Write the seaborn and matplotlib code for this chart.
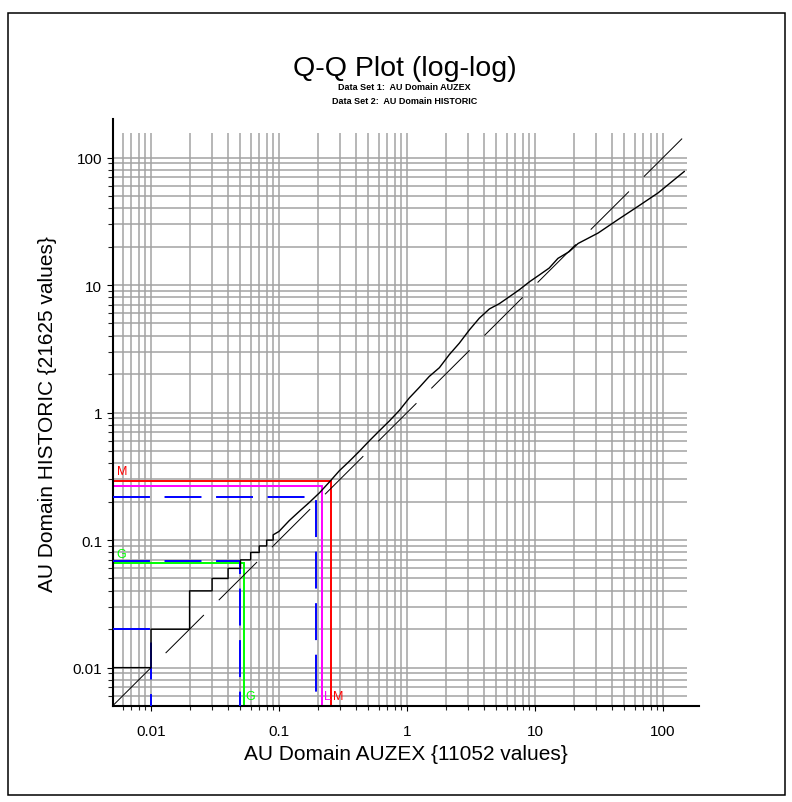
import matplotlib
matplotlib.use("Agg")
import matplotlib.pyplot as plt
from matplotlib.patches import Rectangle
from matplotlib.ticker import NullFormatter
import seaborn as sns

# Q-Q curve: matching quantiles of the two data sets
qq_auzex = [
    0.005, 0.01, 0.01, 0.02, 0.02, 0.03, 0.03, 0.04, 0.04, 0.05, 0.05,
    0.06, 0.06, 0.07, 0.07, 0.08, 0.08, 0.09, 0.09, 0.10,
    0.12, 0.144, 0.173, 0.207, 0.247, 0.296, 0.354, 0.424, 0.507, 0.608,
    0.728, 0.871, 1.04, 1.25, 1.49, 1.79, 2.14, 2.56, 3.07, 3.67, 4.4,
    5.26, 6.3, 7.55, 9.03, 10.8, 12.9, 15.1, 18.5, 21.7, 31.1, 44.6,
    63.9, 91.6, 147.0,
]
qq_historic = [
    0.01, 0.01, 0.02, 0.02, 0.04, 0.04, 0.05, 0.05, 0.06, 0.06, 0.07,
    0.07, 0.08, 0.08, 0.09, 0.09, 0.10, 0.10, 0.11, 0.117,
    0.142, 0.168, 0.198, 0.235, 0.285, 0.35, 0.415, 0.497, 0.60, 0.72,
    0.86, 1.04, 1.3, 1.58, 1.92, 2.25, 2.85, 3.5, 4.45, 5.5, 6.5,
    7.15, 8.1, 9.2, 10.6, 12.0, 13.6, 16.2, 18.3, 21.2, 25.6, 32.7,
    41.5, 52.9, 78.0,
]

# 1:1 reference line
diag_ends = [0.005, 145.0]

# Summary statistics (label, AUZEX value, HISTORIC value, colour)
stat_labels = ["G", "L", "M"]
stat_x = [0.053, 0.215, 0.255]
stat_y = [0.066, 0.267, 0.293]
stat_colors = ["#00ff00", "#ff00ff", "#ff0000"]

# Quartile guides
quartile_x = [0.01, 0.05, 0.195]
quartile_y = [0.02, 0.068, 0.218]

major_ticks = [0.01, 0.1, 1, 10, 100]
major_labels = ["0.01", "0.1", "1", "10", "100"]

x_limits = (0.005, 190.0)
y_limits = (0.005, 200.0)
grid_top = 155.0

sns.set_theme(style="white")
plt.rcParams["font.family"] = ["Liberation Sans", "DejaVu Sans"]

W, H = 792, 803
fig = plt.figure(figsize=(W / 100, H / 100), dpi=100)
left_px, bottom_px = 112.5, 707.0
ax = fig.add_axes([left_px / W, (H - bottom_px) / H, 586.2 / W, 586.8 / H])
ax.set_xscale("log")
ax.set_yscale("log")
ax.set_xlim(*x_limits)
ax.set_ylim(*y_limits)

# log grid at every 1..9 x decade step
grid_vals = [m * 10.0 ** e for e in range(-3, 3) for m in range(1, 10)
             if 0.0055 < m * 10.0 ** e <= 100.5]
minor_vals = [v for v in grid_vals if all(abs(v - t) > 1e-9 * t for t in major_ticks)]
grid_kw = dict(color="#a3a3a3", lw=1.1, zorder=0)
ax.vlines(grid_vals, y_limits[0], grid_top, **grid_kw)
ax.hlines(grid_vals, x_limits[0], grid_top, **grid_kw)

# statistic guides: horizontal from the y axis, vertical down to the x axis
for sx, sy, c in zip(stat_x, stat_y, stat_colors):
    ax.plot([x_limits[0], sx, sx], [sy, sy, y_limits[0]], color=c,
            lw=1.4, zorder=2, solid_joinstyle="miter")
for qx, qy in zip(quartile_x, quartile_y):
    ax.plot([x_limits[0], qx, qx], [qy, qy, y_limits[0]], color="#0000ff",
            lw=1.4, dashes=(19, 7.5), zorder=3)

sns.lineplot(x=diag_ends, y=diag_ends, ax=ax, color="black", lw=0.72,
             dashes=(54, 21), estimator=None, sort=False, zorder=4)
sns.lineplot(x=qq_auzex, y=qq_historic, ax=ax, color="black", lw=1.0,
             estimator=None, sort=False, zorder=5)

# statistic letters
for lab, sx, sy, c in zip(stat_labels, stat_x, stat_y, stat_colors):
    if lab != "L":
        ax.annotate(lab, xy=(x_limits[0], sy), xytext=(3, 2.5),
                    textcoords="offset points", ha="left", va="bottom",
                    fontsize=9, color=c, zorder=6)
    ax.annotate(lab, xy=(sx, y_limits[0]), xytext=(1.5, 3),
                textcoords="offset points", ha="left", va="bottom",
                fontsize=9, color=c, zorder=6)

ax.set_xticks(major_ticks, major_labels)
ax.set_yticks(major_ticks, major_labels)
ax.set_xticks(minor_vals, minor=True)
ax.set_yticks(minor_vals, minor=True)
ax.xaxis.set_minor_formatter(NullFormatter())
ax.yaxis.set_minor_formatter(NullFormatter())
ax.tick_params(axis="x", which="major", direction="out", length=3.8, width=0.8,
               pad=9, labelsize=11, colors="black", bottom=True)
ax.tick_params(axis="x", which="minor", direction="out", length=3.2, width=0.8,
               bottom=True)
ax.tick_params(axis="y", which="major", direction="out", length=4.3, width=0.8,
               pad=3, labelsize=11, colors="black", left=True)
ax.tick_params(axis="y", which="minor", direction="out", length=3.4, width=0.8,
               left=True)
ax.grid(False)

for side in ("top", "right"):
    ax.spines[side].set_visible(False)
for side in ("left", "bottom"):
    ax.spines[side].set_color("black")
    ax.spines[side].set_linewidth(1.5)

ax.set_xlabel("AU Domain AUZEX {11052 values}", fontsize=15, color="black")
ax.set_ylabel("AU Domain HISTORIC {21625 values}", fontsize=15, color="black")
ax.xaxis.set_label_coords(0.5, -0.065)
ax.yaxis.set_label_coords(-0.095, 0.5)

cx = 404.5 / W
fig.text(cx, 1 - 69 / H, "Q-Q Plot (log-log)", ha="center", va="center",
         fontsize=20.5, color="black")
fig.text(cx, 1 - 88 / H, "Data Set 1:  AU Domain AUZEX", ha="center",
         va="center", fontsize=6.5, fontweight="bold", color="black")
fig.text(cx, 1 - 101 / H, "Data Set 2:  AU Domain HISTORIC", ha="center",
         va="center", fontsize=6.5, fontweight="bold", color="black")

fig.add_artist(Rectangle((7.5 / W, (H - 796) / H), (785 - 7.5) / W,
                         (796 - 14) / H, transform=fig.transFigure,
                         fill=False, ec="black", lw=1.1))

fig.savefig("out.png", dpi=100)
